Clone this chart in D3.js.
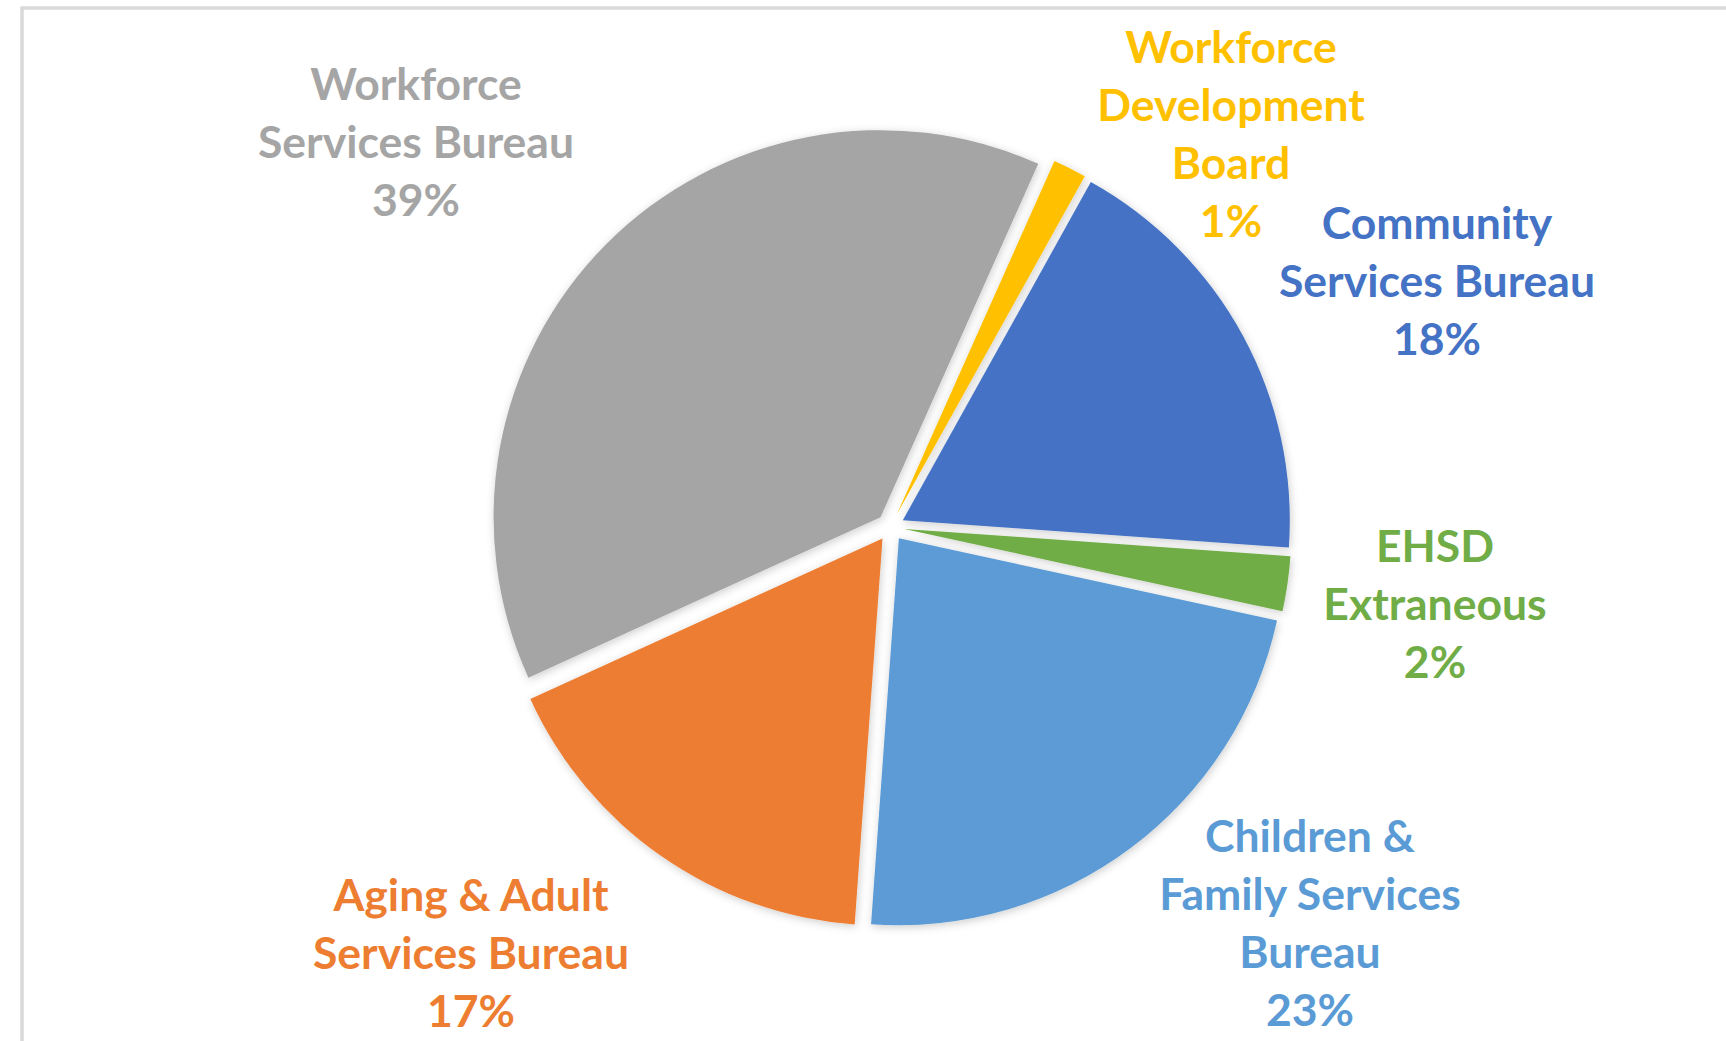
<!DOCTYPE html>
<html>
<head>
<meta charset="utf-8">
<script src="https://cdn.jsdelivr.net/npm/d3@7"></script>
<style>
  html, body { margin: 0; padding: 0; background: #ffffff; }
  svg { display: block; }
</style>
</head>
<body>
<svg id="chart" width="1726" height="1041"></svg>
<script>
// ---- Data ----
const categories = [
  "Workforce Services Bureau",
  "Workforce Development Board",
  "Community Services Bureau",
  "EHSD Extraneous",
  "Children & Family Services Bureau",
  "Aging & Adult Services Bureau"
];
const values = [38.6, 1.4, 18.1, 2.3, 22.8, 17.1];
const percentLabels = ["39%", "1%", "18%", "2%", "23%", "17%"];
const labelLines = [
  ["Workforce", "Services Bureau"],
  ["Workforce", "Development", "Board"],
  ["Community", "Services Bureau"],
  ["EHSD", "Extraneous"],
  ["Children &", "Family Services", "Bureau"],
  ["Aging & Adult", "Services Bureau"]
];
const colors = ["#a5a5a5", "#ffc000", "#4472c4", "#70ad47", "#5b9bd5", "#ed7d31"];

// ---- Layout ----
const W = 1726, H = 1041;
const cx = 890.5, cy = 527, R = 387, explode = 14;
const startDeg = -114.5;
const labelPos = [
  {x: 416, y: 82},
  {x: 1231, y: 45},
  {x: 1437, y: 221},
  {x: 1435, y: 544},
  {x: 1310, y: 834},
  {x: 471, y: 893}
];
const lineH = 58;

const svg = d3.select("#chart");

// frame (partially cropped in the reference)
svg.append("rect")
  .attr("x", 22).attr("y", 8)
  .attr("width", W + 20).attr("height", H + 20)
  .attr("fill", "#ffffff")
  .attr("stroke", "#d9d9d9")
  .attr("stroke-width", 3.5);

const defs = svg.append("defs");
const filt = defs.append("filter").attr("id", "shadow")
  .attr("x", "-20%").attr("y", "-20%").attr("width", "140%").attr("height", "140%");
filt.append("feDropShadow")
  .attr("dx", 1).attr("dy", 2).attr("stdDeviation", 4)
  .attr("flood-color", "#000").attr("flood-opacity", 0.2);

const color = d3.scaleOrdinal().domain(categories).range(colors);

const pie = d3.pie().sort(null).value(d => d.value)
  .startAngle(startDeg * Math.PI / 180)
  .endAngle((startDeg + 360) * Math.PI / 180);
const arc = d3.arc().innerRadius(0).outerRadius(R);

const data = categories.map((c, i) => ({cat: c, value: values[i], i}));
const arcs = pie(data);

const g = svg.append("g").attr("transform", `translate(${cx},${cy})`);
g.selectAll("path.slice").data(arcs).join("path")
  .attr("class", "slice")
  .attr("d", arc)
  .attr("fill", d => color(d.data.cat))
  .attr("filter", "url(#shadow)")
  .attr("transform", d => {
    const a = (d.startAngle + d.endAngle) / 2;
    return `translate(${explode * Math.sin(a)},${-explode * Math.cos(a)})`;
  });

// labels
const lg = svg.append("g")
  .attr("font-family", "Lato, 'Open Sans', sans-serif")
  .attr("font-weight", 700)
  .attr("font-size", 44.5)
  .attr("text-anchor", "middle");

arcs.forEach((d, i) => {
  const lines = labelLines[i].concat([percentLabels[i]]);
  const t = lg.append("text")
    .attr("x", labelPos[i].x).attr("y", labelPos[i].y)
    .attr("fill", color(d.data.cat))
    .attr("dominant-baseline", "central");
  lines.forEach((ln, k) => {
    t.append("tspan").attr("x", labelPos[i].x).attr("y", labelPos[i].y + k * lineH).text(ln);
  });
});
</script>
</body>
</html>
